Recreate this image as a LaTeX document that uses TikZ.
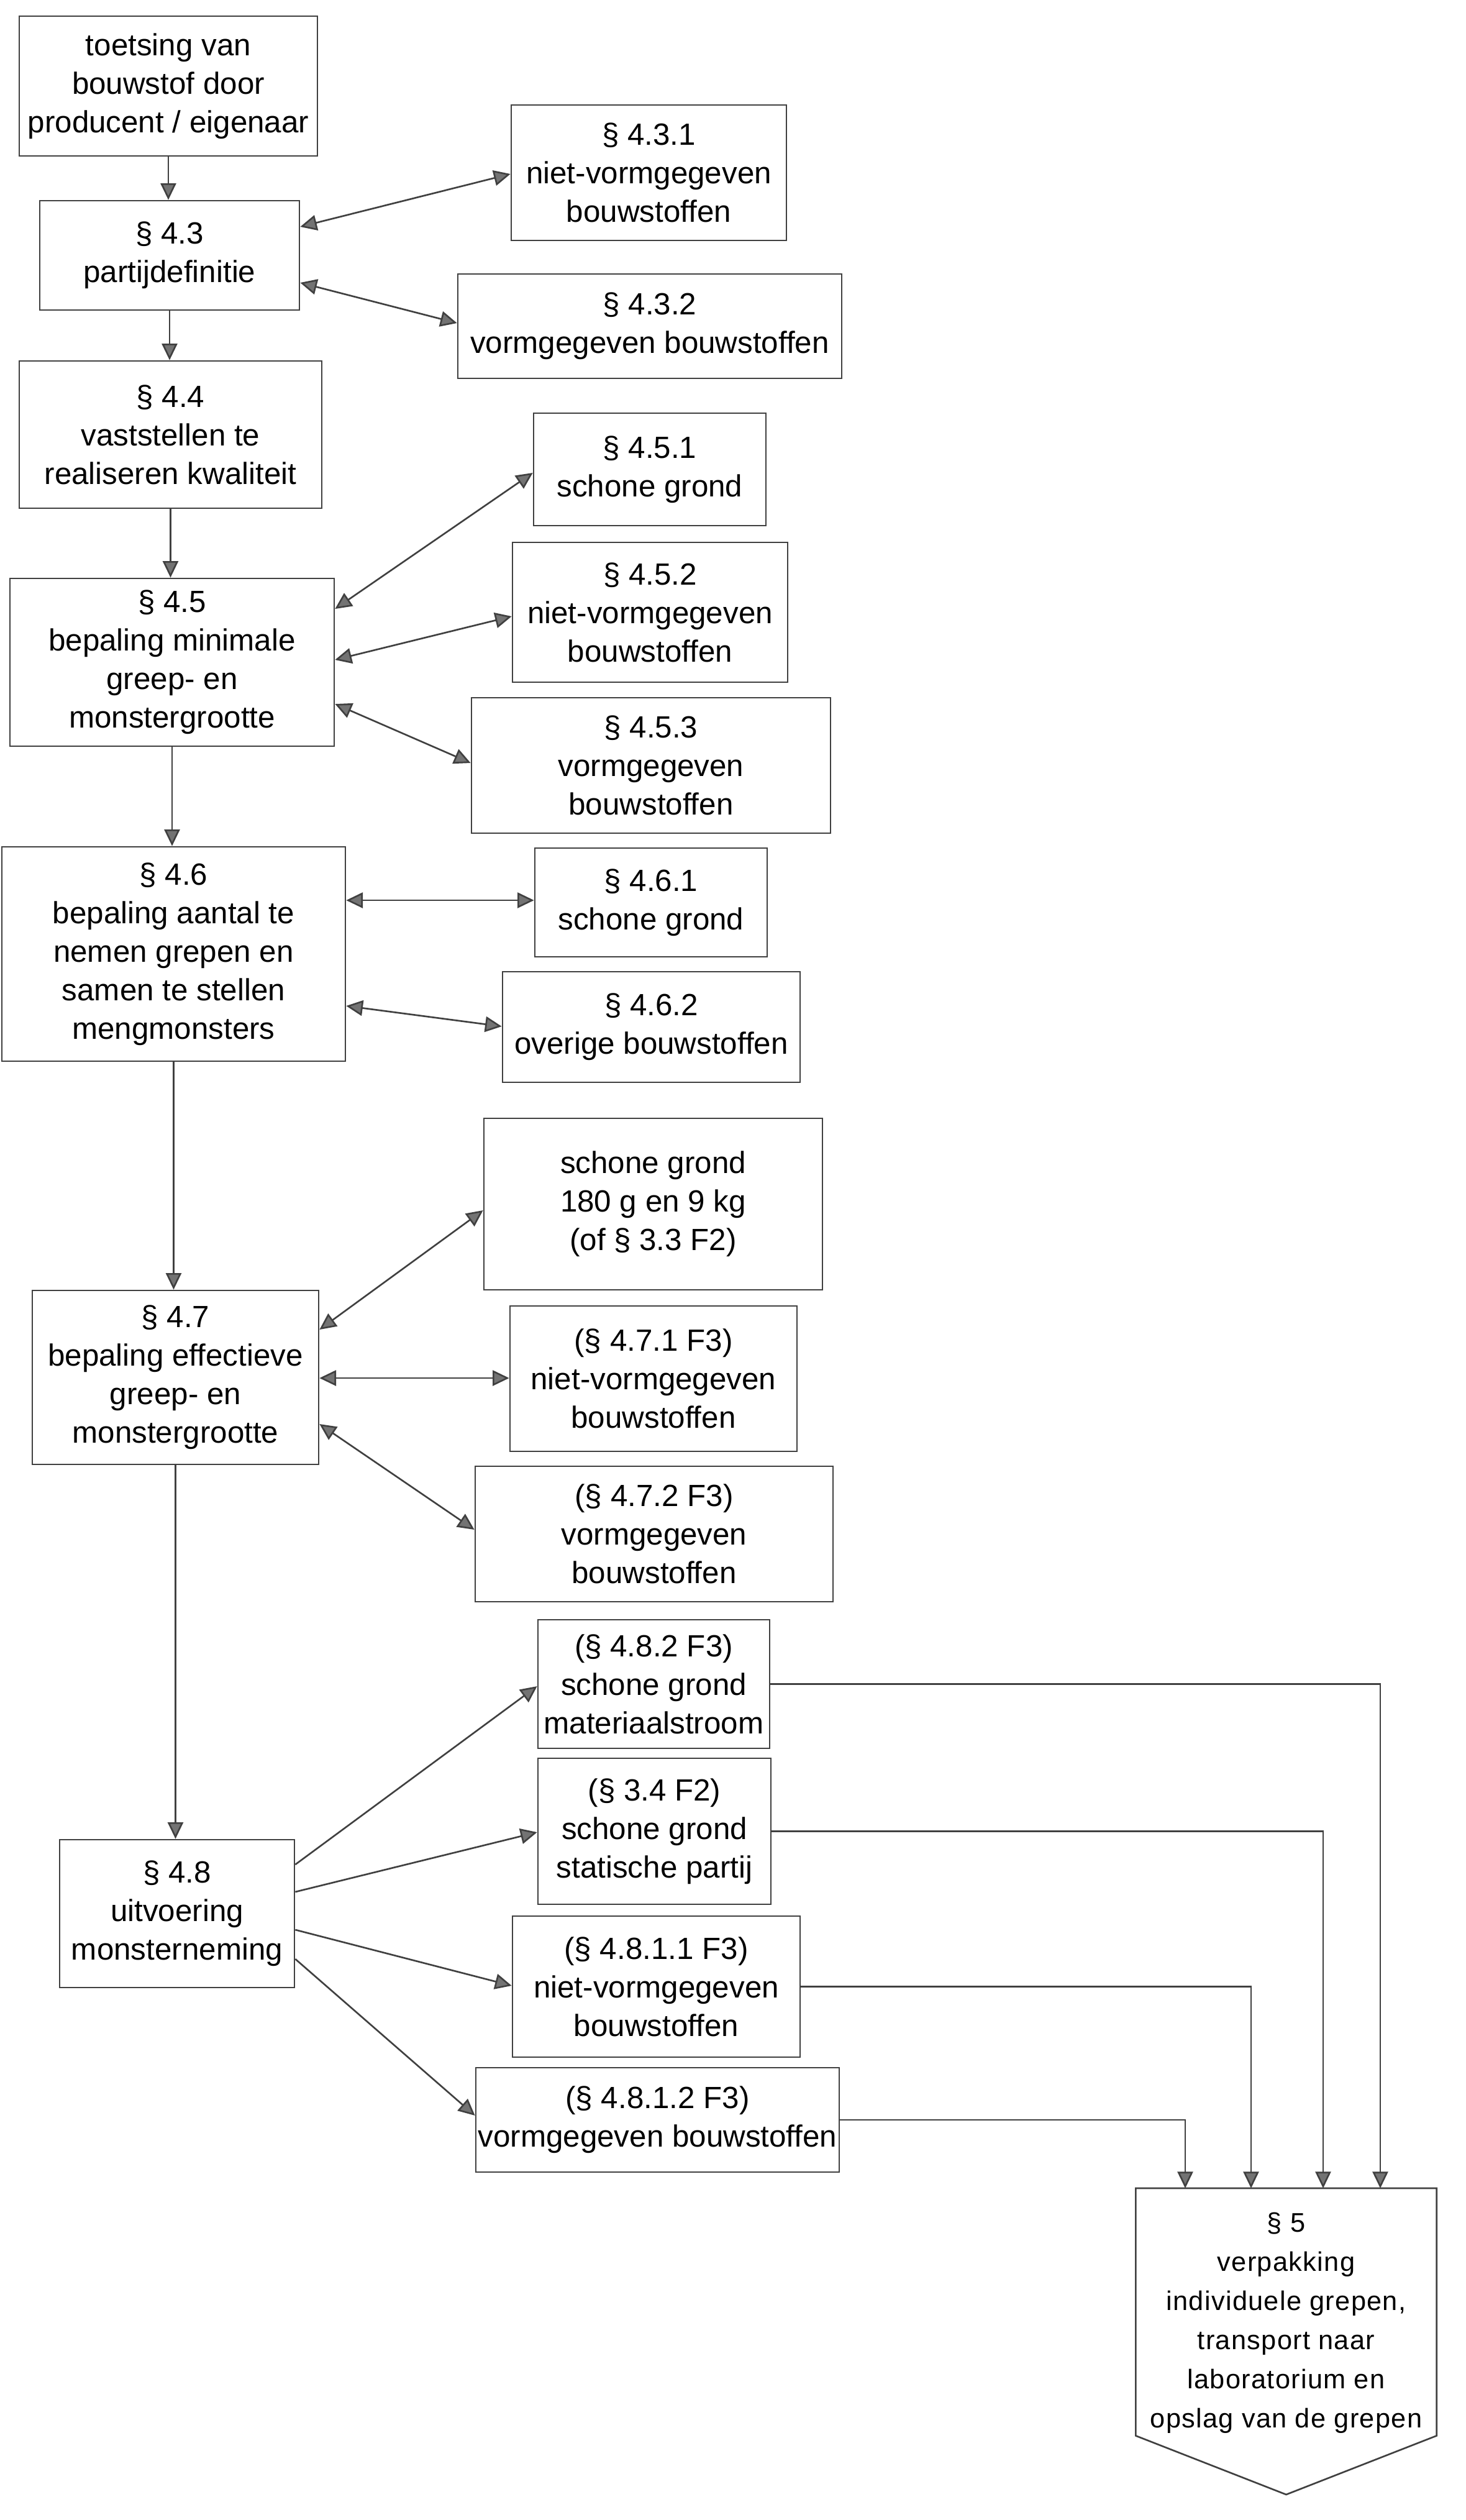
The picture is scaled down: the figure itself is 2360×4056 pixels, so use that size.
\documentclass[tikz,border=0pt]{standalone}
\usepackage{fontspec}
\setmainfont{Liberation Sans}
\usetikzlibrary{arrows.meta}
\begin{document}
\begin{tikzpicture}[x=0.3pt,y=-0.3pt,
  ln/.style={draw=black!75,line width=0.8pt},
  bx/.style 2 args={ln,minimum width=#1*0.3pt,minimum height=#2*0.3pt,inner sep=0pt,
    align=center,font=\fontsize{14.8pt}{18.6pt}\selectfont},
  arr/.style={ln,-{Triangle[length=8pt,width=7.5pt,fill=black!55]}},
  darr/.style={ln,{Triangle[length=8pt,width=7.5pt,fill=black!55]}-{Triangle[length=8pt,width=7.5pt,fill=black!55]}}]
\useasboundingbox (0,0) rectangle (2360,4056);

\node[bx={480}{225}] (A) at (271,138.5) {toetsing van\\bouwstof door\\producent / eigenaar};
\node[bx={418}{176}] (B) at (273,411) {§ 4.3\\partijdefinitie};
\node[bx={443}{218}] (B1) at (1044.5,278) {§ 4.3.1\\niet-vormgegeven\\bouwstoffen};
\node[bx={618}{168}] (B2) at (1046,525) {§ 4.3.2\\vormgegeven bouwstoffen};
\node[bx={487}{237}] (C) at (274.5,699.5) {§ 4.4\\vaststellen te\\realiseren kwaliteit};
\node[bx={522}{270}] (D) at (277,1066) {§ 4.5\\bepaling minimale\\greep- en\\monstergrootte};
\node[bx={374}{181}] (D1) at (1046,755.5) {§ 4.5.1\\schone grond};
\node[bx={443}{225}] (D2) at (1046.5,985.5) {§ 4.5.2\\niet-vormgegeven\\bouwstoffen};
\node[bx={578}{218}] (D3) at (1048,1232) {§ 4.5.3\\vormgegeven\\bouwstoffen};
\node[bx={553}{345}] (E) at (279.5,1535.5) {§ 4.6\\bepaling aantal te\\nemen grepen en\\samen te stellen\\mengmonsters};
\node[bx={374}{175}] (E1) at (1048,1452.5) {§ 4.6.1\\schone grond};
\node[bx={479}{178}] (E2) at (1048.5,1653) {§ 4.6.2\\overige bouwstoffen};
\node[bx={545}{276}] (F0) at (1051.5,1938) {schone grond\\180 g en 9 kg\\(of § 3.3 F2)};
\node[bx={461}{280}] (F) at (282.5,2217) {§ 4.7\\bepaling effectieve\\greep- en\\monstergrootte};
\node[bx={462}{234}] (F1) at (1052,2219) {(§ 4.7.1 F3)\\niet-vormgegeven\\bouwstoffen};
\node[bx={576}{218}] (F2) at (1053,2469) {(§ 4.7.2 F3)\\vormgegeven\\bouwstoffen};
\node[bx={378}{238}] (G) at (285,3080) {§ 4.8\\uitvoering\\monsterneming};
\node[bx={373}{207}] (G1) at (1052.5,2710.5) {(§ 4.8.2 F3)\\schone grond\\materiaalstroom};
\node[bx={375}{235}] (G2) at (1053.5,2947.5) {(§ 3.4 F2)\\schone grond\\statische partij};
\node[bx={463}{227}] (G3) at (1056.5,3197.5) {(§ 4.8.1.1 F3)\\niet-vormgegeven\\bouwstoffen};
\node[bx={585}{168}] (G4) at (1058.5,3412) {(§ 4.8.1.2 F3)\\vormgegeven bouwstoffen};

% final pentagon
\node[minimum width=483*0.3pt,minimum height=397*0.3pt,inner sep=0pt,anchor=north] (H) at (2070.5,3522) {};
\coordinate (Htip) at (2070.5,4015);
\draw[ln] (H.south west) -- (H.north west) -- (H.north east) -- (H.south east) -- (Htip) -- cycle;
\node[align=center,font=\fontsize{13pt}{18.9pt}\selectfont\addfontfeature{LetterSpace=3}] (Ht) at (2070.5,3739)
  {§ 5\\verpakking\\individuele grepen,\\transport naar\\laboratorium en\\opslag van de grepen};

% main column
\draw[arr] (A) -- (A |- B.north);
\draw[arr] (B) -- (B |- C.north);
\draw[arr] (C) -- (C |- D.north);
\draw[arr] (D) -- (D |- E.north);
\draw[arr] (E) -- (E |- F.north);
\draw[arr] (F) -- (F |- G.north);

% side links
\draw[darr] (B.east |- 0,365) -- (B1.west |- 0,280);
\draw[darr] (B.east |- 0,455) -- (B2.west |- 0,520);
\draw[darr] (D.east |- 0,980) -- (D1.west |- 0,761);
\draw[darr] (D.east |- 0,1062) -- (D2.west |- 0,992);
\draw[darr] (D.east |- 0,1133) -- (D3.west |- 0,1228);
\draw[darr] (E.east |- 0,1449) -- (E1.west |- 0,1449);
\draw[darr] (E.east |- 0,1619) -- (E2.west |- 0,1652);
\draw[darr] (F.east |- 0,2140) -- (F0.west |- 0,1948);
\draw[darr] (F.east |- 0,2218) -- (F1.west |- 0,2218);
\draw[darr] (F.east |- 0,2292) -- (F2.west |- 0,2462);
\draw[arr] (G.east |- 0,3001) -- (G1.west |- 0,2714);
\draw[arr] (G.east |- 0,3045) -- (G2.west |- 0,2949);
\draw[arr] (G.east |- 0,3106) -- (G3.west |- 0,3196);
\draw[arr] (G.east |- 0,3153) -- (G4.west |- 0,3405);

% to section 5
\coordinate (h1) at (2222,3522);
\coordinate (h2) at (2130,3522);
\coordinate (h3) at (2014,3522);
\coordinate (h4) at (1908,3522);
\draw[arr] (G1.east) -| (h1);
\draw[arr] (G2.east) -| (h2);
\draw[arr] (G3.east) -| (h3);
\draw[arr] (G4.east) -| (h4);
\end{tikzpicture}
\end{document}
